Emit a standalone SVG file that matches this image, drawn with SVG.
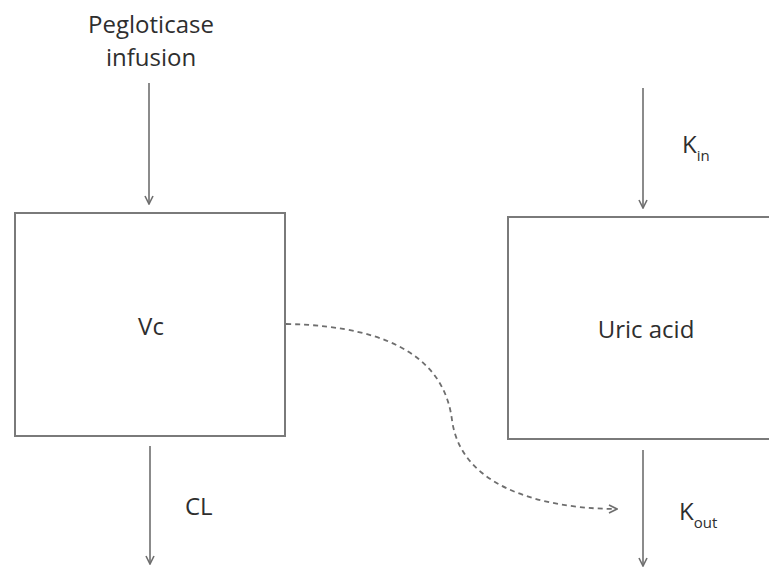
<svg xmlns="http://www.w3.org/2000/svg" width="769" height="570" viewBox="0 0 769 570">
  <style>
    .box { fill: #ffffff; stroke: #7a7a7a; stroke-width: 2; }
    .flow { stroke: #6e6e6e; stroke-width: 1.6; fill: none; }
    .link { stroke: #6e6e6e; stroke-width: 1.8; fill: none; stroke-dasharray: 5 4; }
    .lbl { font-family: "Open Sans", "Liberation Sans", sans-serif; font-size: 24px; fill: #2e2e2e; }
    .sub { font-size: 15px; }
  </style>
  <defs>
    <marker id="arrow" viewBox="0 0 10 10" refX="9" refY="5" markerWidth="10" markerHeight="10" markerUnits="userSpaceOnUse" orient="auto">
      <path d="M1,1 L9,5 L1,9" fill="none" stroke="#6e6e6e" stroke-width="1.6"/>
    </marker>
  </defs>

  <rect x="0" y="0" width="769" height="570" fill="#ffffff"/>

  <g id="vc">
    <rect class="box" x="15" y="213" width="270" height="223"/>
    <text class="lbl" x="151" y="335" text-anchor="middle">Vc</text>
  </g>

  <g id="uric-acid">
    <rect class="box" x="508" y="217" width="280" height="222"/>
    <text class="lbl" x="646" y="338" text-anchor="middle">Uric acid</text>
  </g>

  <g id="infusion-label">
    <text class="lbl" x="151" y="33" text-anchor="middle">Pegloticase</text>
    <text class="lbl" x="151" y="66" text-anchor="middle">infusion</text>
  </g>

  <g id="connectors">
    <line class="flow" x1="149" y1="83" x2="149" y2="204" marker-end="url(#arrow)"/>
    <line class="flow" x1="643" y1="88" x2="643" y2="208" marker-end="url(#arrow)"/>
    <line class="flow" x1="150" y1="446" x2="150" y2="564" marker-end="url(#arrow)"/>
    <line class="flow" x1="643" y1="450" x2="643" y2="566" marker-end="url(#arrow)"/>
    <path class="link" d="M286,324 C400,326 445,365 452,420 C462,495 560,509 617,509" marker-end="url(#arrow)"/>
  </g>

  <g id="rate-labels">
    <text class="lbl" x="185" y="515">CL</text>
    <text class="lbl" x="682" y="153">K<tspan class="sub" dy="8">in</tspan></text>
    <text class="lbl" x="679" y="520">K<tspan class="sub" dy="8">out</tspan></text>
  </g>
</svg>
